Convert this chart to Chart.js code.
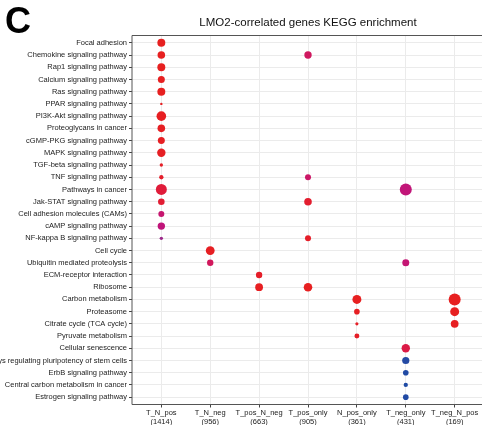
<!DOCTYPE html>
<html>
<head>
<meta charset="utf-8">
<script src="https://cdn.jsdelivr.net/npm/chart.js@4.4.1/dist/chart.umd.min.js"></script>
<style>
  html, body { margin: 0; padding: 0; background: #fff; overflow: hidden; }
  #wrap { width: 482px; height: 425px; overflow: hidden; }
</style>
</head>
<body>
<div id="wrap"><canvas id="keggChart" width="490" height="425"></canvas></div>
<script>
// x categories (gene sets) and their sizes
const groups = ['T_N_pos', 'T_N_neg', 'T_pos_N_neg', 'T_pos_only', 'N_pos_only', 'T_neg_only', 'T_neg_N_pos'];
const groupSizes = [1414, 956, 663, 905, 361, 431, 169];

// y categories, top to bottom
const pathways = [
  'Focal adhesion', 'Chemokine signaling pathway', 'Rap1 signaling pathway', 'Calcium signaling pathway',
  'Ras signaling pathway', 'PPAR signaling pathway', 'PI3K-Akt signaling pathway', 'Proteoglycans in cancer',
  'cGMP-PKG signaling pathway', 'MAPK signaling pathway', 'TGF-beta signaling pathway', 'TNF signaling pathway',
  'Pathways in cancer', 'Jak-STAT signaling pathway', 'Cell adhesion molecules (CAMs)', 'cAMP signaling pathway',
  'NF-kappa B signaling pathway', 'Cell cycle', 'Ubiquitin mediated proteolysis', 'ECM-receptor interaction',
  'Ribosome', 'Carbon metabolism', 'Proteasome', 'Citrate cycle (TCA cycle)', 'Pyruvate metabolism',
  'Cellular senescence', 'Signaling pathways regulating pluripotency of stem cells', 'ErbB signaling pathway',
  'Central carbon metabolism in cancer', 'Estrogen signaling pathway'
];

// enriched terms per gene set: gene count and adjusted p value
const tNPosTerms = ['Focal adhesion', 'Chemokine signaling pathway', 'Rap1 signaling pathway', 'Calcium signaling pathway',
  'Ras signaling pathway', 'PPAR signaling pathway', 'PI3K-Akt signaling pathway', 'Proteoglycans in cancer',
  'cGMP-PKG signaling pathway', 'MAPK signaling pathway', 'TGF-beta signaling pathway', 'TNF signaling pathway',
  'Pathways in cancer', 'Jak-STAT signaling pathway', 'Cell adhesion molecules (CAMs)', 'cAMP signaling pathway',
  'NF-kappa B signaling pathway'];
const tNPosCounts = [44, 40, 44, 34, 44, 4, 64, 40, 34, 49, 8, 13, 84, 30, 25, 38, 8];
const tNPosPadj = [0.0002, 0.0003, 0.0002, 0.0003, 0.0002, 0.0004, 0.0004, 0.0005, 0.0005, 0.0006, 0.0008, 0.0012, 0.0026, 0.0020, 0.0090, 0.0100, 0.0145];

const tNNegTerms = ['Cell cycle', 'Ubiquitin mediated proteolysis'];
const tNNegCounts = [54, 28];
const tNNegPadj = [0.0005, 0.0068];

const tPosNNegTerms = ['ECM-receptor interaction', 'Ribosome'];
const tPosNNegCounts = [28, 42];
const tPosNNegPadj = [0.0010, 0.0004];

const tPosOnlyTerms = ['Chemokine signaling pathway', 'TNF signaling pathway', 'Jak-STAT signaling pathway', 'NF-kappa B signaling pathway', 'Ribosome'];
const tPosOnlyCounts = [38, 25, 40, 25, 51];
const tPosOnlyPadj = [0.0072, 0.0082, 0.0016, 0.0010, 0.0003];

const nPosOnlyTerms = ['Carbon metabolism', 'Proteasome', 'Citrate cycle (TCA cycle)', 'Pyruvate metabolism'];
const nPosOnlyCounts = [56, 22, 7, 17];
const nPosOnlyPadj = [0.0003, 0.0005, 0.0008, 0.0009];

const tNegOnlyTerms = ['Pathways in cancer', 'Ubiquitin mediated proteolysis', 'Cellular senescence',
  'Signaling pathways regulating pluripotency of stem cells', 'ErbB signaling pathway',
  'Central carbon metabolism in cancer', 'Estrogen signaling pathway'];
const tNegOnlyCounts = [100, 34, 49, 36, 22, 13, 22];
const tNegOnlyPadj = [0.0098, 0.0094, 0.0040, 0.0390, 0.0395, 0.0400, 0.0395];

const tNegNPosTerms = ['Carbon metabolism', 'Proteasome', 'Citrate cycle (TCA cycle)'];
const tNegNPosCounts = [100, 56, 42];
const tNegNPosPadj = [0.0002, 0.0003, 0.0004];

const enrichment = [
  [tNPosTerms, tNPosCounts, tNPosPadj],
  [tNNegTerms, tNNegCounts, tNNegPadj],
  [tPosNNegTerms, tPosNNegCounts, tPosNNegPadj],
  [tPosOnlyTerms, tPosOnlyCounts, tPosOnlyPadj],
  [nPosOnlyTerms, nPosOnlyCounts, nPosOnlyPadj],
  [tNegOnlyTerms, tNegOnlyCounts, tNegOnlyPadj],
  [tNegNPosTerms, tNegNPosCounts, tNegNPosPadj]
];

// colour ramp for p.adjust (red = low, blue = high), limits 0..0.04
const padjMax = 0.04;
const ramp = [
  [0, [232, 32, 30]],
  [0.08, [222, 27, 64]],
  [0.2, [204, 23, 101]],
  [0.25, [192, 21, 122]],
  [0.36, [156, 42, 138]],
  [1, [31, 75, 165]]
];
const padjColor = (p) => {
  const t = Math.min(1, Math.max(0, p / padjMax));
  for (let i = 1; i < ramp.length; i++) {
    if (t <= ramp[i][0]) {
      const [t0, c0] = ramp[i - 1];
      const [t1, c1] = ramp[i];
      const f = (t - t0) / (t1 - t0);
      const c = c0.map((v, k) => Math.round(v + (c1[k] - v) * f));
      return `rgb(${c[0]},${c[1]},${c[2]})`;
    }
  }
  return 'rgb(31,75,165)';
};
const countRadius = (n) => 0.6 * Math.sqrt(n);

const points = [];
const colors = [];
enrichment.forEach(([terms, counts, padj], gi) => {
  terms.forEach((term, j) => {
    points.push({ x: gi, y: pathways.indexOf(term), r: countRadius(counts[j]) });
    colors.push(padjColor(padj[j]));
  });
});

const FONT = '"Liberation Sans", Arial, sans-serif';

const decor = {
  id: 'decor',
  afterDraw(chart) {
    const { ctx, chartArea } = chart;
    const { left, top, right, bottom } = chartArea;
    ctx.save();
    // panel frame (right side lies outside the window)
    ctx.strokeStyle = '#555';
    ctx.lineWidth = 1;
    ctx.beginPath();
    ctx.moveTo(right + 1, top);
    ctx.lineTo(left, top);
    ctx.lineTo(left, bottom);
    ctx.lineTo(right + 1, bottom);
    ctx.stroke();
    ctx.fillStyle = '#111';
    ctx.font = '11.5px ' + FONT;
    ctx.textAlign = 'center';
    ctx.textBaseline = 'middle';
    ctx.fillText('LMO2-correlated genes KEGG enrichment', (left + right) / 2, 23);
    ctx.fillStyle = '#000';
    ctx.font = 'bold 36px ' + FONT;
    ctx.textAlign = 'left';
    ctx.textBaseline = 'alphabetic';
    ctx.fillText('C', 5, 33);
    ctx.restore();
  }
};

const ctx = document.getElementById('keggChart');
new Chart(ctx, {
  type: 'bubble',
  data: {
    datasets: [{
      data: points,
      backgroundColor: colors,
      borderWidth: 0,
      hoverRadius: 0,
      hoverBorderWidth: 0
    }]
  },
  options: {
    responsive: false,
    animation: false,
    events: [],
    layout: { padding: { top: 35.5, right: 6, bottom: 0, left: 0 } },
    plugins: { legend: { display: false }, tooltip: { enabled: false } },
    scales: {
      x: {
        type: 'linear',
        min: -0.6,
        max: 6.6,
        afterBuildTicks: (axis) => { axis.ticks = groups.map((g, i) => ({ value: i })); },
        afterFit: (axis) => { axis.height = 20.5; },
        ticks: {
          autoSkip: false,
          maxRotation: 0,
          padding: 1,
          color: '#222',
          font: { family: FONT, size: 7.5, lineHeight: 1.15 },
          callback: (v) => [groups[v], '(' + groupSizes[v] + ')']
        },
        grid: { color: '#ebebeb', lineWidth: 1, tickColor: '#444', tickLength: 3 },
        border: { display: false }
      },
      y: {
        type: 'linear',
        reverse: true,
        min: -0.6,
        max: 29.6,
        afterBuildTicks: (axis) => { axis.ticks = pathways.map((p, i) => ({ value: i })); },
        afterFit: (axis) => { axis.width = 132; },
        ticks: {
          autoSkip: false,
          padding: 2,
          color: '#222',
          font: { family: FONT, size: 7.5 },
          callback: (v) => pathways[v]
        },
        grid: { color: '#ebebeb', lineWidth: 1, tickColor: '#444', tickLength: 3 },
        border: { display: false }
      }
    }
  },
  plugins: [decor]
});
</script>
</body>
</html>
